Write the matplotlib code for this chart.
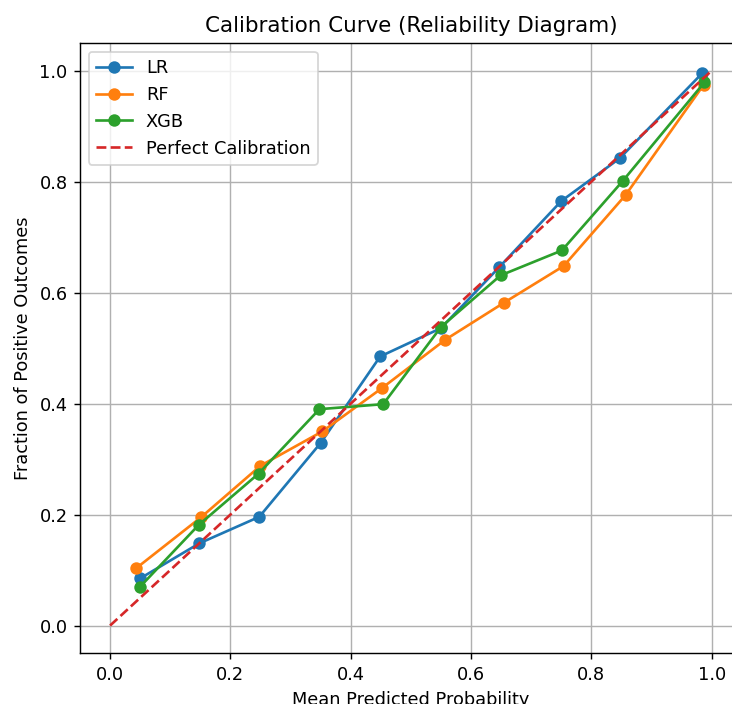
import matplotlib
matplotlib.use("Agg")
import matplotlib.pyplot as plt

# binned calibration results per model (mean predicted prob, fraction positive)
lr_pred = [0.050, 0.148, 0.248, 0.350, 0.449, 0.550, 0.647, 0.750, 0.847, 0.984]
lr_true = [0.085, 0.148, 0.196, 0.329, 0.485, 0.536, 0.646, 0.765, 0.842, 0.995]

rf_pred = [0.043, 0.151, 0.250, 0.353, 0.452, 0.557, 0.655, 0.754, 0.857, 0.987]
rf_true = [0.103, 0.195, 0.288, 0.350, 0.428, 0.515, 0.582, 0.648, 0.776, 0.975]

xgb_pred = [0.049, 0.147, 0.247, 0.348, 0.454, 0.550, 0.649, 0.751, 0.852, 0.988]
xgb_true = [0.069, 0.181, 0.274, 0.390, 0.399, 0.538, 0.631, 0.676, 0.801, 0.979]

DPI = 128
fig = plt.figure(figsize=(732 / DPI, 704 / DPI), dpi=DPI)
ax = fig.add_axes([0.1093, 0.072, 0.904, 0.867])

ax.plot(lr_pred, lr_true, marker="o", label="LR")
ax.plot(rf_pred, rf_true, marker="o", label="RF")
ax.plot(xgb_pred, xgb_true, marker="o", label="XGB")
ax.plot([0, 1], [0, 1], "--", color="C3", label="Perfect Calibration")

ax.set_xlim(-0.05, 1.05)
ax.set_ylim(-0.05, 1.05)
ax.set_xlabel("Mean Predicted Probability")
ax.set_ylabel("Fraction of Positive Outcomes")
ax.set_title("Calibration Curve (Reliability Diagram)")
ax.legend(loc="upper left")
ax.grid(True)

fig.savefig("out.png", dpi=DPI)
